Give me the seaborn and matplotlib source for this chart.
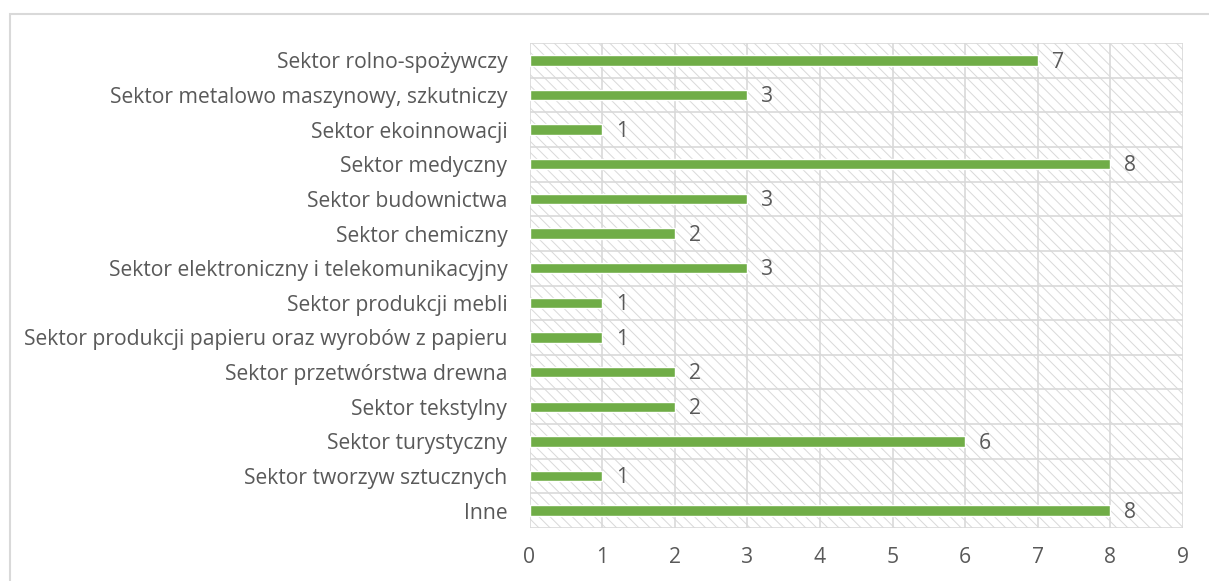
import matplotlib
matplotlib.use("Agg")
import matplotlib.pyplot as plt
import seaborn as sns
import pandas as pd
from matplotlib.patches import Rectangle

# data (top to bottom)
sectors = [
    "Sektor rolno-spożywczy",
    "Sektor metalowo maszynowy, szkutniczy",
    "Sektor ekoinnowacji",
    "Sektor medyczny",
    "Sektor budownictwa",
    "Sektor chemiczny",
    "Sektor elektroniczny i telekomunikacyjny",
    "Sektor produkcji mebli",
    "Sektor produkcji papieru oraz wyrobów z papieru",
    "Sektor przetwórstwa drewna",
    "Sektor tekstylny",
    "Sektor turystyczny",
    "Sektor tworzyw sztucznych",
    "Inne",
]
counts = [7, 3, 1, 8, 3, 2, 3, 1, 1, 2, 2, 6, 1, 8]
x_ticks = list(range(0, 10))

BAR = "#70AD47"
GRID = "#D9D9D9"
TEXT = "#595959"
FS = 15.2

sns.set_theme(style="white")
plt.rcParams["font.family"] = ["Open Sans", "DejaVu Sans"]
plt.rcParams["hatch.color"] = GRID
plt.rcParams["hatch.linewidth"] = 0.7

df = pd.DataFrame({"sector": sectors, "count": counts})

fig = plt.figure(figsize=(12.09, 5.81), dpi=100)
ax = fig.add_axes([529.5 / 1209, 1 - 528 / 581, (1183 - 529.5) / 1209, (528 - 43) / 581])

# hatched plot area
ax.add_patch(Rectangle((0, 0), 1, 1, transform=ax.transAxes, facecolor="white",
                       edgecolor=GRID, hatch="\\\\\\", lw=0, zorder=0))

sns.barplot(data=df, y="sector", x="count", orient="h", color=BAR,
            width=0.3, saturation=1, ax=ax, zorder=3)

ax.set_xlim(0, 9)
ax.set_ylim(len(sectors) - 0.5, -0.5)
ax.set_xticks(x_ticks)
ax.set_xticklabels([str(t) for t in x_ticks])
ax.set_xlabel("")
ax.set_ylabel("")

# grid: vertical at integers, horizontal between categories
for t in x_ticks:
    ax.axvline(t, color=GRID, lw=1.2, zorder=1)
for b in range(len(sectors) + 1):
    ax.axhline(b - 0.5, color=GRID, lw=1.2, zorder=1)
ax.set_yticks([b - 0.5 for b in range(len(sectors) + 1)], minor=True)
ax.tick_params(axis="y", which="minor", length=5, width=1.2, color=GRID)
ax.tick_params(axis="y", which="major", length=0, pad=16, labelsize=FS, labelcolor=TEXT)
ax.tick_params(axis="x", length=0, pad=14, labelsize=FS, labelcolor=TEXT)
for s in ax.spines.values():
    s.set_visible(False)

# value labels
for i, v in enumerate(counts):
    ax.text(v + 0.19, i + 0.05, str(v), va="center", ha="left", fontsize=FS, color=TEXT, zorder=4)

# outer chart border (only top and left visible in the crop)
fig.patches.append(Rectangle((10 / 1209, -0.2), 2, 1.2 - 14 / 581, transform=fig.transFigure,
                             fill=False, edgecolor=GRID, lw=1.5))

fig.savefig("out.png", dpi=100)
